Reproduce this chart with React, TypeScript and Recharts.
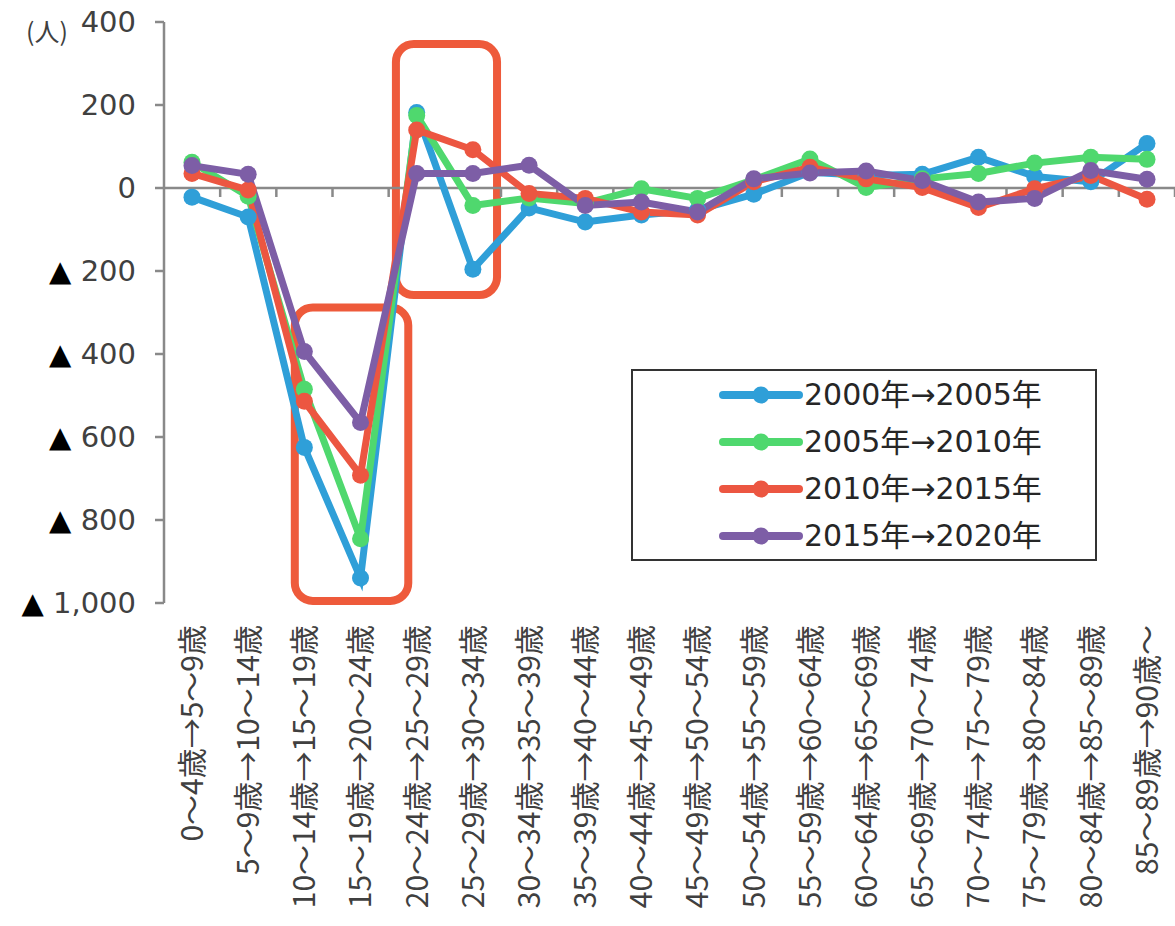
import { Legend, Line, LineChart, ReferenceArea, ReferenceLine, XAxis, YAxis } from "recharts"

const ages = [
  "0～4歳→5～9歳",
  "5～9歳→10～14歳",
  "10～14歳→15～19歳",
  "15～19歳→20～24歳",
  "20～24歳→25～29歳",
  "25～29歳→30～34歳",
  "30～34歳→35～39歳",
  "35～39歳→40～44歳",
  "40～44歳→45～49歳",
  "45～49歳→50～54歳",
  "50～54歳→55～59歳",
  "55～59歳→60～64歳",
  "60～64歳→65～69歳",
  "65～69歳→70～74歳",
  "70～74歳→75～79歳",
  "75～79歳→80～84歳",
  "80～84歳→85～89歳",
  "85～89歳→90歳～",
]

const s2000 = [-22, -70, -625, -940, 182, -196, -48, -82, -65, -53, -15, 38, 30, 33, 74, 28, 15, 107]
const s2005 = [62, -20, -485, -845, 175, -42, -24, -37, -2, -25, 20, 70, 1, 22, 35, 60, 74, 69]
const s2010 = [35, -5, -514, -692, 140, 92, -13, -25, -58, -65, 15, 50, 22, 1, -47, -2, 30, -27]
const s2015 = [54, 33, -394, -565, 35, 35, 55, -42, -34, -58, 22, 36, 41, 18, -34, -25, 42, 21]

const yTicks = [400, 200, 0, -200, -400, -600, -800, -1000]

const series = [
  { key: "a", name: "2000年→2005年", values: s2000, color: "#2f9fd8" },
  { key: "b", name: "2005年→2010年", values: s2005, color: "#4fd86e" },
  { key: "c", name: "2010年→2015年", values: s2010, color: "#ec5641" },
  { key: "d", name: "2015年→2020年", values: s2015, color: "#7d5ea6" },
]

const data = ages.map((age, i) => {
  const row: any = { age }
  series.forEach(s => (row[s.key] = s.values[i]))
  return row
})

const font = '"DejaVu Sans", "Noto Sans CJK JP", sans-serif'
const cjkFont = '"Noto Sans CJK JP", "DejaVu Sans", sans-serif'
const axisGray = "#898989"

function YTick({ x, y, payload }: any) {
  const v = payload.value
  return (
    <text x={x} y={y} dy="0.36em" textAnchor="end" fontSize={29} fill="#404040" fontFamily={font}>
      {v < 0 ? (
        <>
          <tspan fill="#000">▲ </tspan>
          <tspan>{Math.abs(v).toLocaleString("en-US")}</tspan>
        </>
      ) : (
        v
      )}
    </text>
  )
}

function XTick({ x, y, payload }: any) {
  return (
    <text
      x={x}
      y={y}
      dy="0.36em"
      textAnchor="end"
      fontSize={30}
      fill="#404040"
      fontFamily={cjkFont}
      transform={`rotate(-90, ${x}, ${y})`}
    >
      {payload.value}
    </text>
  )
}

// zero line with Excel-style tick marks between categories
function ZeroLine(props: any) {
  const { x1, x2, y1 } = props
  const step = (x2 - x1) / ages.length
  const ticks = []
  for (let k = 1; k <= ages.length; k++) {
    const tx = x1 + step * k
    ticks.push(<line key={k} x1={tx} x2={tx} y1={y1} y2={y1 + 9} stroke={axisGray} strokeWidth={2.5} />)
  }
  return (
    <g>
      <line x1={x1} x2={x2} y1={y1} y2={y1} stroke={axisGray} strokeWidth={2.5} />
      {ticks}
    </g>
  )
}

// rounded highlight frame, offsets in units of one category step
const frame = (shiftL: number, shiftR: number) => (p: any) => {
  const step = p.width
  const left = p.x + shiftL * step
  const right = p.x + p.width + shiftR * step
  return (
    <rect
      x={left}
      y={p.y}
      width={right - left}
      height={p.height}
      rx={18}
      fill="none"
      stroke="#ee5a3b"
      strokeWidth={8}
    />
  )
}

function LegendBox({ payload }: any) {
  return (
    <div
      style={{
        border: "2px solid #333",
        width: 466,
        height: 192,
        boxSizing: "border-box",
        fontFamily: font,
        color: "#262626",
      }}
    >
      {(payload || []).map((entry: any) => (
        <div key={entry.value} style={{ display: "flex", alignItems: "center", height: 47, paddingLeft: 86 }}>
          <svg width={84} height={20}>
            <line x1={4} y1={10} x2={80} y2={10} stroke={entry.color} strokeWidth={8} strokeLinecap="round" />
            <circle cx={42} cy={10} r={8.5} fill={entry.color} />
          </svg>
          <span style={{ fontSize: 30, marginLeft: 1, lineHeight: 1 }}>{entry.value}</span>
        </div>
      ))}
    </div>
  )
}

export default function App() {
  return (
    <div style={{ position: "absolute", left: 0, top: 0, width: 1175, height: 926, background: "#fff" }}>
      <div
        style={{
          position: "absolute",
          left: 26,
          top: 18,
          fontSize: 25,
          lineHeight: 1,
          color: "#404040",
          fontFamily: cjkFont,
        }}
      >
        (人)
      </div>
      <LineChart width={1175} height={926} data={data} margin={{ top: 22, right: 0, bottom: 0, left: 0 }}>
        <XAxis
          dataKey="age"
          interval={0}
          height={323}
          padding={{ left: 28, right: 28 }}
          axisLine={false}
          tickLine={false}
          tickSize={0}
          tickMargin={22}
          tick={<XTick />}
        />
        <YAxis
          width={164}
          domain={[-1000, 400]}
          ticks={yTicks}
          interval={0}
          axisLine={{ stroke: axisGray, strokeWidth: 2.5 }}
          tickLine={{ stroke: axisGray, strokeWidth: 2.5 }}
          tickSize={9}
          tickMargin={19}
          tick={<YTick />}
        />
        <ReferenceLine y={0} shape={ZeroLine} />
        {series.map(s => (
          <Line
            key={s.key}
            dataKey={s.key}
            name={s.name}
            stroke={s.color}
            strokeWidth={7}
            dot={{ r: 8.5, fill: s.color, stroke: s.color, strokeWidth: 0 }}
            activeDot={false}
            isAnimationActive={false}
          />
        ))}
        <ReferenceArea x1={ages[2]} x2={ages[3]} y1={-995} y2={-288} shape={frame(-0.17, 0.85)} />
        <ReferenceArea x1={ages[4]} x2={ages[5]} y1={-258} y2={347} shape={frame(-0.37, 0.43)} />
        <Legend
          layout="vertical"
          align="center"
          verticalAlign="middle"
          content={<LegendBox />}
          wrapperStyle={{ position: "absolute", left: 631, top: 369, width: 466 }}
        />
      </LineChart>
    </div>
  )
}
